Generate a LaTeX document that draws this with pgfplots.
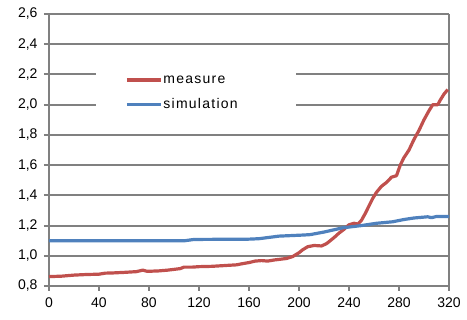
\documentclass[border=0pt]{standalone}
\usepackage{pgfplots}
\pgfplotsset{compat=1.18}
\usepackage{fontspec}
\setmainfont{Liberation Sans}
\definecolor{exred}{HTML}{C0504D}
\definecolor{exblue}{HTML}{4F81BD}
\definecolor{gridgray}{HTML}{808080}
\begin{document}
\begin{tikzpicture}
\begin{axis}[
  scale only axis, width=400pt, height=272pt,
  xmin=0, xmax=320, ymin=0.8, ymax=2.6,
  xtick={0,40,...,320}, ytick={0.8,1.0,...,2.6},
  axis x line*=bottom, axis y line*=left,
  axis line style={gridgray, line width=2pt, -},
  ymajorgrids, grid style={gridgray, line width=2pt},
  major tick style={gridgray, line width=2pt},
  tick align=outside, major tick length=5pt,
  yticklabel style={/pgf/number format/use comma, /pgf/number format/fixed, /pgf/number format/fixed zerofill, /pgf/number format/precision=1, xshift=-3pt},
  /pgf/number format/assume math mode=true,
  ticklabel style={font=\fontsize{14}{16}\selectfont},
  xticklabel style={yshift=-3pt},
  legend style={at={(axis cs:37.6,2.30)}, anchor=north west, draw=none, fill=white,
    inner xsep=29pt, inner ysep=14pt, row sep=10pt,
    font=\fontsize{14}{16}\selectfont\addfontfeature{LetterSpace=9}, nodes={inner xsep=1pt}},
  legend cell align=left,
  legend image code/.code={\draw[#1] (0pt,0pt) -- (34pt,0pt);},
  clip=false,
]
\draw[gridgray, line width=2pt] (rel axis cs:1,0) -- (rel axis cs:1,1);
\addplot[exred, line width=3.2pt, line join=round] coordinates {
(0,0.862) (10,0.865) (20,0.872) (30,0.876) (40,0.878) (45,0.885) (50,0.886)
(60,0.89) (70,0.895) (75,0.905) (78,0.898) (82,0.898) (88,0.9) (95,0.905)
(100,0.91) (105,0.915) (108,0.925) (115,0.925) (120,0.928) (130,0.93)
(140,0.935) (150,0.94) (155,0.948) (160,0.955) (165,0.965) (170,0.968)
(175,0.965) (180,0.972) (190,0.982) (195,0.995) (200,1.02) (203,1.04)
(207,1.06) (212,1.068) (218,1.065) (222,1.08) (228,1.12) (232,1.15)
(236,1.175) (240,1.205) (244,1.215) (247,1.21) (250,1.235) (253,1.28)
(256,1.33) (259,1.38) (262,1.42) (266,1.46) (270,1.485) (274,1.52)
(278,1.53) (281,1.6) (284,1.65) (288,1.7) (292,1.77) (296,1.83)
(300,1.9) (304,1.96) (307,2.0) (311,2.0) (313,2.03) (316,2.07) (319,2.1)
};
\addlegendentry{\makebox[103pt][l]{measure}}
\addplot[exblue, line width=3.2pt, line join=round] coordinates {
(0,1.10) (109,1.10) (116,1.108) (160,1.11) (168,1.113) (184,1.13)
(203,1.137) (209,1.14) (220,1.157) (235,1.185) (250,1.2) (262,1.215)
(275,1.225) (284,1.24) (292,1.25) (303,1.258) (306,1.252) (310,1.26) (320,1.26)
};
\addlegendentry{\makebox[103pt][l]{simulation\rule[-8pt]{0pt}{1pt}}}
\end{axis}
\pgfresetboundingbox
\path (-49pt,-34pt) rectangle (418pt,286pt);
\end{tikzpicture}
\end{document}
